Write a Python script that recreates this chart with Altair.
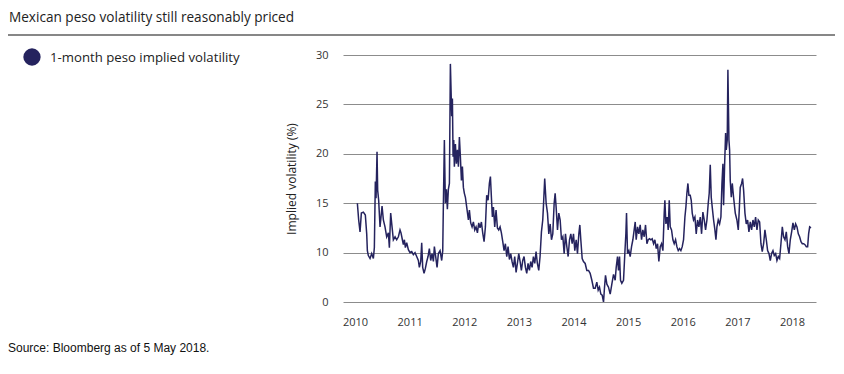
import altair as alt
import pandas as pd

# ---- data (decimal year, implied vol %) ----
years = [
    2010.043, 2010.067, 2010.092, 2010.116, 2010.153, 2010.189, 2010.214, 2010.226, 2010.244, 2010.275,
    2010.305, 2010.336, 2010.354, 2010.372, 2010.385, 2010.403, 2010.415, 2010.433, 2010.458, 2010.476,
    2010.495, 2010.519, 2010.549, 2010.580, 2010.611, 2010.629, 2010.653, 2010.678, 2010.702, 2010.733,
    2010.763, 2010.794, 2010.824, 2010.842, 2010.867, 2010.885, 2010.904, 2010.922, 2010.946, 2010.977,
    2011.007, 2011.038, 2011.068, 2011.099, 2011.129, 2011.160, 2011.178, 2011.203, 2011.221, 2011.239,
    2011.264, 2011.288, 2011.313, 2011.337, 2011.361, 2011.386, 2011.410, 2011.435, 2011.453, 2011.477,
    2011.502, 2011.526, 2011.557, 2011.587, 2011.606, 2011.618, 2011.636, 2011.654, 2011.673, 2011.691,
    2011.709, 2011.728, 2011.746, 2011.758, 2011.770, 2011.783, 2011.795, 2011.807, 2011.819, 2011.838,
    2011.856, 2011.874, 2011.893, 2011.911, 2011.929, 2011.948, 2011.966, 2011.984, 2012.002, 2012.021,
    2012.045, 2012.076, 2012.094, 2012.118, 2012.143, 2012.167, 2012.192, 2012.216, 2012.241, 2012.265,
    2012.289, 2012.314, 2012.338, 2012.363, 2012.387, 2012.411, 2012.436, 2012.460, 2012.479, 2012.497,
    2012.515, 2012.534, 2012.558, 2012.582, 2012.607, 2012.631, 2012.656, 2012.680, 2012.705, 2012.729,
    2012.753, 2012.778, 2012.802, 2012.827, 2012.851, 2012.875, 2012.900, 2012.924, 2012.949, 2012.973,
    2012.998, 2013.022, 2013.046, 2013.071, 2013.095, 2013.120, 2013.144, 2013.168, 2013.193, 2013.217,
    2013.242, 2013.266, 2013.291, 2013.315, 2013.339, 2013.364, 2013.388, 2013.413, 2013.437, 2013.449,
    2013.473, 2013.499, 2013.524, 2013.548, 2013.573, 2013.597, 2013.621, 2013.646, 2013.664, 2013.682,
    2013.707, 2013.731, 2013.756, 2013.780, 2013.805, 2013.829, 2013.853, 2013.878, 2013.902, 2013.927,
    2013.951, 2013.976, 2014.000, 2014.024, 2014.049, 2014.073, 2014.098, 2014.116, 2014.134, 2014.159,
    2014.183, 2014.214, 2014.244, 2014.275, 2014.305, 2014.336, 2014.366, 2014.397, 2014.427, 2014.452,
    2014.476, 2014.501, 2014.525, 2014.550, 2014.568, 2014.586, 2014.611, 2014.641, 2014.672, 2014.702,
    2014.733, 2014.763, 2014.782, 2014.806, 2014.824, 2014.843, 2014.861, 2014.885, 2014.916, 2014.940,
    2014.959, 2014.971, 2014.989, 2015.014, 2015.038, 2015.063, 2015.087, 2015.111, 2015.130, 2015.148,
    2015.173, 2015.197, 2015.221, 2015.246, 2015.270, 2015.295, 2015.319, 2015.344, 2015.368, 2015.392,
    2015.417, 2015.441, 2015.466, 2015.490, 2015.515, 2015.539, 2015.563, 2015.588, 2015.612, 2015.637,
    2015.661, 2015.673, 2015.692, 2015.716, 2015.734, 2015.753, 2015.771, 2015.795, 2015.820, 2015.844,
    2015.869, 2015.893, 2015.918, 2015.942, 2015.966, 2015.991, 2016.015, 2016.040, 2016.058, 2016.076,
    2016.095, 2016.113, 2016.137, 2016.156, 2016.174, 2016.198, 2016.223, 2016.247, 2016.272, 2016.296,
    2016.321, 2016.345, 2016.369, 2016.394, 2016.418, 2016.443, 2016.467, 2016.485, 2016.504, 2016.522,
    2016.540, 2016.565, 2016.589, 2016.608, 2016.626, 2016.650, 2016.675, 2016.699, 2016.718, 2016.736,
    2016.748, 2016.766, 2016.785, 2016.797, 2016.815, 2016.827, 2016.846, 2016.858, 2016.870, 2016.889,
    2016.907, 2016.931, 2016.962, 2016.992, 2017.017, 2017.035, 2017.053, 2017.078, 2017.096, 2017.115,
    2017.139, 2017.163, 2017.188, 2017.212, 2017.237, 2017.261, 2017.286, 2017.310, 2017.334, 2017.359,
    2017.383, 2017.408, 2017.432, 2017.456, 2017.481, 2017.505, 2017.530, 2017.554, 2017.579, 2017.603,
    2017.627, 2017.652, 2017.676, 2017.701, 2017.725, 2017.750, 2017.774, 2017.798, 2017.823, 2017.847,
    2017.872, 2017.896, 2017.921, 2017.945, 2017.969, 2017.994, 2018.018, 2018.043, 2018.067, 2018.092,
    2018.116, 2018.140, 2018.165, 2018.189, 2018.214, 2018.238, 2018.263, 2018.287, 2018.305, 2018.324,
    2018.348,
]
vol = [
    15.0, 13.3, 12.1, 14.0, 14.1, 13.8, 11.9, 10.2, 9.7, 9.4,
    9.9, 9.4, 10.5, 17.2, 15.5, 20.2, 16.3, 15.3, 12.6, 13.6,
    14.7, 13.3, 12.6, 11.6, 12.0, 10.5, 14.0, 12.6, 11.3, 11.6,
    11.3, 11.6, 12.3, 12.0, 11.3, 10.8, 11.3, 10.5, 11.0, 10.3,
    10.0, 10.1, 9.8, 10.0, 9.6, 9.2, 8.5, 9.1, 11.0, 8.5,
    7.9, 8.4, 9.1, 9.6, 10.4, 9.2, 9.9, 9.1, 10.6, 9.6,
    8.5, 9.9, 10.2, 9.2, 10.2, 15.0, 21.4, 15.0, 16.4, 14.4,
    16.4, 17.0, 29.1, 26.5, 23.8, 25.6, 19.7, 21.4, 18.7, 21.0,
    19.0, 20.4, 18.7, 21.7, 19.7, 17.3, 18.7, 16.6, 16.0, 15.6,
    14.6, 13.3, 14.3, 13.0, 12.6, 13.1, 12.3, 12.6, 12.0, 13.0,
    12.5, 13.1, 12.0, 11.1, 12.6, 15.8, 15.3, 17.0, 17.7, 15.6,
    13.6, 14.6, 12.6, 14.3, 12.5, 12.3, 12.6, 12.0, 11.1, 10.2,
    10.9, 9.6, 10.6, 9.3, 9.9, 9.1, 8.5, 9.6, 8.0, 8.9,
    9.9, 9.1, 8.2, 9.2, 9.6, 8.5, 7.9, 8.9, 8.2, 9.1,
    8.5, 9.6, 8.9, 10.1, 8.9, 8.2, 9.6, 12.1, 13.3, 14.6,
    17.5, 15.0, 14.0, 11.9, 12.9, 11.3, 11.9, 15.0, 16.0, 14.6,
    12.3, 14.0, 13.3, 11.3, 11.6, 9.9, 11.9, 10.6, 9.6, 11.3,
    11.9, 10.9, 11.9, 10.2, 11.3, 9.9, 11.9, 12.8, 11.3, 9.4,
    9.1, 8.9, 8.2, 8.2, 7.9, 7.2, 6.4, 6.4, 7.0, 6.2,
    6.5, 5.8, 5.7, 5.0, 6.5, 7.7, 6.8, 6.5, 5.8, 6.8,
    7.8, 7.2, 8.5, 9.6, 8.2, 9.6, 7.2, 6.9, 7.2, 9.9,
    11.9, 14.0, 9.9, 10.2, 9.6, 10.6, 11.3, 12.3, 13.1, 11.3,
    12.6, 11.9, 12.8, 11.3, 12.3, 11.6, 12.8, 10.9, 11.3, 11.4,
    11.3, 11.4, 10.9, 11.3, 10.4, 10.9, 9.1, 10.6, 10.9, 10.2,
    14.0, 15.3, 12.9, 13.6, 12.3, 15.3, 12.6, 12.3, 11.3, 10.9,
    11.3, 10.6, 10.2, 10.4, 10.2, 10.6, 11.3, 13.6, 14.6, 16.0,
    17.0, 15.8, 15.8, 15.3, 14.0, 13.3, 13.6, 11.9, 13.3, 12.6,
    13.6, 11.9, 14.1, 13.3, 12.3, 13.3, 15.0, 16.0, 18.9, 15.6,
    14.6, 13.3, 12.3, 11.3, 12.6, 13.3, 12.9, 13.6, 17.0, 19.0,
    14.8, 18.7, 22.1, 20.4, 21.4, 28.5, 21.4, 20.4, 17.3, 15.6,
    17.0, 15.6, 14.0, 13.3, 12.3, 14.3, 16.6, 17.0, 17.5, 16.3,
    14.0, 12.9, 13.3, 12.1, 13.1, 12.3, 13.3, 12.6, 13.6, 12.3,
    13.3, 13.1, 10.9, 10.1, 10.9, 12.3, 11.3, 10.2, 9.9, 9.2,
    9.9, 10.2, 9.7, 9.9, 9.2, 9.6, 9.4, 10.9, 12.6, 11.6,
    11.3, 12.1, 10.6, 9.9, 11.3, 12.1, 13.0, 12.3, 12.9, 12.6,
    11.9, 11.6, 11.1, 10.9, 10.9, 10.8, 10.6, 10.6, 11.9, 12.6,
    12.5,
]
x_ticks = [2010, 2011, 2012, 2013, 2014, 2015, 2016, 2017, 2018]
y_ticks = [5, 10, 15, 20, 25, 30]

title_text = "Mexican peso volatility still reasonably priced"
legend_text = "1-month peso implied volatility"
source_text = "Source: Bloomberg as of 5 May 2018."
y_title = "Implied volatility (%)"

LINE_COLOR = "#25235e"
FONT = "Open Sans"

df = pd.DataFrame({"year": years, "vol": vol})

line = alt.Chart(df).mark_line(color=LINE_COLOR, strokeWidth=1.5, clip=True).encode(
    x=alt.X("year:Q",
            scale=alt.Scale(domain=[2009.78, 2018.44], nice=False, zero=False),
            axis=alt.Axis(values=x_ticks, format="d", title=None, grid=False,
                          labelPadding=14, labelFontSize=11, labelColor="#333333",
                          labelFont=FONT)),
    y=alt.Y("vol:Q",
            scale=alt.Scale(domain=[5, 30], nice=False, zero=False),
            axis=alt.Axis(values=y_ticks, title=y_title,
                          labelExpr="datum.value == 5 ? '0' : datum.label",
                          grid=True, gridColor="#8c8c8c", gridWidth=1,
                          labelPadding=15, labelFontSize=11, labelColor="#333333",
                          labelFont=FONT, titleFont=FONT, titleFontSize=12,
                          titleFontWeight="normal", titleColor="#222222",
                          titlePadding=17)),
)

one = alt.Data(values=[{"k": 1}])

title = alt.Chart(one).mark_text(text=title_text, align="left", baseline="alphabetic",
                                 font=FONT, fontSize=13.6, color="#222222").encode(
    x=alt.value(-334), y=alt.value(-33))

rule = alt.Chart(one).mark_rule(color="#111111", strokeWidth=1.2).encode(
    x=alt.value(-335), x2=alt.value(492), y=alt.value(-20))

legend_dot = alt.Chart(one).mark_point(filled=True, shape="circle", size=300,
                                       color=LINE_COLOR, opacity=1).encode(
    x=alt.value(-311), y=alt.value(2))

legend_label = alt.Chart(one).mark_text(text=legend_text, align="left", baseline="middle",
                                        font=FONT, fontSize=13.2, color="#222222").encode(
    x=alt.value(-293), y=alt.value(3))

source = alt.Chart(one).mark_text(text=source_text, align="left", baseline="alphabetic",
                                  font="Liberation Sans", fontSize=12,
                                  color="#111111").encode(
    x=alt.value(-335), y=alt.value(297))

chart = alt.layer(line, title, rule, legend_dot, legend_label, source).properties(
    width=473, height=247,
    autosize=alt.AutoSizeParams(type="none"),
    padding={"left": 335, "top": 47, "right": 20, "bottom": 62},
).configure_view(stroke=None).configure_axis(domain=False, ticks=False)

chart.save("out.html", embed_options={"renderer": "svg", "actions": False})
